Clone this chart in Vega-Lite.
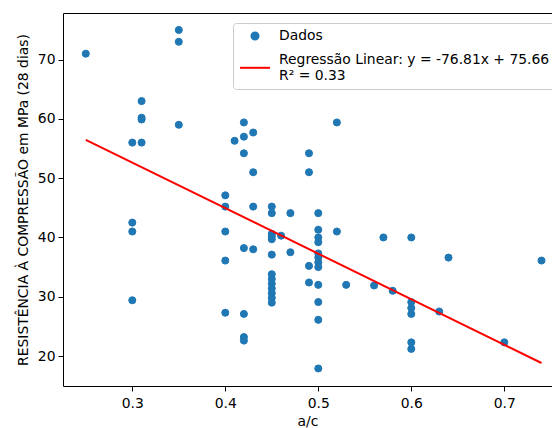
{
  "$schema": "https://vega.github.io/schema/vega-lite/v6.json",
  "autosize": {"type": "none"},
  "padding": {"left": 63, "top": 13, "right": 0, "bottom": 42},
  "width": 489,
  "height": 373,
  "background": "white",
  "title": {"text": "concreto com ARC.", "fontSize": 27.5, "font": "DejaVu Sans", "fontWeight": "normal", "color": "black", "anchor": "middle", "frame": "group", "baseline": "alphabetic", "offset": 0, "dy": 13, "dx": -20},
  "config": {
    "view": {"stroke": null},
    "axis": {"labelFont": "DejaVu Sans", "labelFontSize": 13.9, "labelColor": "black", "tickColor": "black", "domainColor": "black", "tickSize": 5, "titleFont": "DejaVu Sans", "titleFontSize": 13.9, "titleFontWeight": "normal", "titleColor": "black", "grid": false, "domainWidth": 1, "tickWidth": 1},
    "legend": {
      "orient": "none", "legendX": 170, "legendY": 10, "title": null,
      "fillColor": "rgba(255,255,255,0.8)", "strokeColor": "#cccccc", "cornerRadius": 3, "padding": 6,
      "labelFont": "DejaVu Sans", "labelFontSize": 13.9, "labelColor": "black", "labelLimit": 0, "labelOffset": 8, "labelLineHeight": 19.5,
      "symbolStrokeWidth": 2, "symbolOpacity": 1, "rowPadding": -7
    }
  },
  "datasets": {
    "pts": [
      {"ac": 0.25, "fc": 71, "serie": "Dados"},
      {"ac": 0.30, "fc": 56, "serie": "Dados"},
      {"ac": 0.30, "fc": 42.5, "serie": "Dados"},
      {"ac": 0.30, "fc": 41, "serie": "Dados"},
      {"ac": 0.30, "fc": 29.4, "serie": "Dados"},
      {"ac": 0.31, "fc": 63, "serie": "Dados"},
      {"ac": 0.31, "fc": 60.2, "serie": "Dados"},
      {"ac": 0.31, "fc": 59.9, "serie": "Dados"},
      {"ac": 0.31, "fc": 56, "serie": "Dados"},
      {"ac": 0.35, "fc": 75, "serie": "Dados"},
      {"ac": 0.35, "fc": 73, "serie": "Dados"},
      {"ac": 0.35, "fc": 59, "serie": "Dados"},
      {"ac": 0.40, "fc": 47.1, "serie": "Dados"},
      {"ac": 0.40, "fc": 45.2, "serie": "Dados"},
      {"ac": 0.40, "fc": 41, "serie": "Dados"},
      {"ac": 0.40, "fc": 36.1, "serie": "Dados"},
      {"ac": 0.40, "fc": 27.3, "serie": "Dados"},
      {"ac": 0.41, "fc": 56.3, "serie": "Dados"},
      {"ac": 0.42, "fc": 59.4, "serie": "Dados"},
      {"ac": 0.42, "fc": 57, "serie": "Dados"},
      {"ac": 0.42, "fc": 54.2, "serie": "Dados"},
      {"ac": 0.42, "fc": 38.2, "serie": "Dados"},
      {"ac": 0.42, "fc": 27.1, "serie": "Dados"},
      {"ac": 0.42, "fc": 23.2, "serie": "Dados"},
      {"ac": 0.42, "fc": 22.6, "serie": "Dados"},
      {"ac": 0.43, "fc": 57.7, "serie": "Dados"},
      {"ac": 0.43, "fc": 51, "serie": "Dados"},
      {"ac": 0.43, "fc": 45.2, "serie": "Dados"},
      {"ac": 0.43, "fc": 38, "serie": "Dados"},
      {"ac": 0.45, "fc": 45.2, "serie": "Dados"},
      {"ac": 0.45, "fc": 44.1, "serie": "Dados"},
      {"ac": 0.45, "fc": 40.6, "serie": "Dados"},
      {"ac": 0.45, "fc": 40.2, "serie": "Dados"},
      {"ac": 0.45, "fc": 39.7, "serie": "Dados"},
      {"ac": 0.45, "fc": 37.1, "serie": "Dados"},
      {"ac": 0.45, "fc": 33.8, "serie": "Dados"},
      {"ac": 0.45, "fc": 33.0, "serie": "Dados"},
      {"ac": 0.45, "fc": 32.2, "serie": "Dados"},
      {"ac": 0.45, "fc": 31.4, "serie": "Dados"},
      {"ac": 0.45, "fc": 30.6, "serie": "Dados"},
      {"ac": 0.45, "fc": 29.8, "serie": "Dados"},
      {"ac": 0.45, "fc": 29.0, "serie": "Dados"},
      {"ac": 0.46, "fc": 40.3, "serie": "Dados"},
      {"ac": 0.47, "fc": 44.1, "serie": "Dados"},
      {"ac": 0.47, "fc": 37.5, "serie": "Dados"},
      {"ac": 0.49, "fc": 54.2, "serie": "Dados"},
      {"ac": 0.49, "fc": 51, "serie": "Dados"},
      {"ac": 0.49, "fc": 35.2, "serie": "Dados"},
      {"ac": 0.49, "fc": 32.4, "serie": "Dados"},
      {"ac": 0.50, "fc": 44.1, "serie": "Dados"},
      {"ac": 0.50, "fc": 41.3, "serie": "Dados"},
      {"ac": 0.50, "fc": 40.0, "serie": "Dados"},
      {"ac": 0.50, "fc": 39.2, "serie": "Dados"},
      {"ac": 0.50, "fc": 37.3, "serie": "Dados"},
      {"ac": 0.50, "fc": 36.6, "serie": "Dados"},
      {"ac": 0.50, "fc": 35.8, "serie": "Dados"},
      {"ac": 0.50, "fc": 35.0, "serie": "Dados"},
      {"ac": 0.50, "fc": 32.0, "serie": "Dados"},
      {"ac": 0.50, "fc": 29.1, "serie": "Dados"},
      {"ac": 0.50, "fc": 26.1, "serie": "Dados"},
      {"ac": 0.50, "fc": 17.9, "serie": "Dados"},
      {"ac": 0.52, "fc": 59.4, "serie": "Dados"},
      {"ac": 0.52, "fc": 41, "serie": "Dados"},
      {"ac": 0.53, "fc": 32, "serie": "Dados"},
      {"ac": 0.56, "fc": 31.9, "serie": "Dados"},
      {"ac": 0.57, "fc": 40, "serie": "Dados"},
      {"ac": 0.58, "fc": 31, "serie": "Dados"},
      {"ac": 0.60, "fc": 40, "serie": "Dados"},
      {"ac": 0.60, "fc": 29.1, "serie": "Dados"},
      {"ac": 0.60, "fc": 28.1, "serie": "Dados"},
      {"ac": 0.60, "fc": 27.1, "serie": "Dados"},
      {"ac": 0.60, "fc": 22.3, "serie": "Dados"},
      {"ac": 0.60, "fc": 21.2, "serie": "Dados"},
      {"ac": 0.63, "fc": 27.5, "serie": "Dados"},
      {"ac": 0.64, "fc": 36.6, "serie": "Dados"},
      {"ac": 0.70, "fc": 22.3, "serie": "Dados"},
      {"ac": 0.74, "fc": 36.1, "serie": "Dados"}
    ],
    "reg": [
      {"ac": 0.25, "fc": 56.46, "serie": "Regressão Linear"},
      {"ac": 0.74, "fc": 18.82, "serie": "Regressão Linear"}
    ]
  },
  "layer": [
    {
      "data": {"name": "pts"},
      "mark": {"type": "point", "filled": true, "opacity": 1, "strokeWidth": 1},
      "encoding": {
        "x": {"field": "ac", "type": "quantitative", "scale": {"domain": [0.2255, 0.7513], "nice": false, "zero": false},
              "axis": {"orient": "bottom", "values": [0.3, 0.4, 0.5, 0.6, 0.7], "format": ".1f", "title": "a/c", "labelPadding": 5, "titlePadding": 5}},
        "y": {"field": "fc", "type": "quantitative", "scale": {"domain": [14.94, 77.86], "nice": false, "zero": false},
              "axis": {"values": [20, 30, 40, 50, 60, 70], "title": "RESISTÊNCIA À COMPRESSÃO em MPa (28 dias)", "labelPadding": 3, "titlePadding": 7}},
        "color": {"field": "serie", "type": "nominal",
                  "scale": {"domain": ["Dados", "Regressão Linear"], "range": ["#1f77b4", "#ff0000"]},
                  "legend": {"title": null, "labelExpr": "datum.value == 'Dados' ? 'Dados' : ['Regressão Linear: y = -76.81x + 75.66', 'R² = 0.33']"}},
        "stroke": {"field": "serie", "type": "nominal",
                  "scale": {"domain": ["Dados", "Regressão Linear"], "range": ["#1f77b4", "#ff0000"]},
                  "legend": {"title": null, "labelExpr": "datum.value == 'Dados' ? 'Dados' : ['Regressão Linear: y = -76.81x + 75.66', 'R² = 0.33']"}},
        "shape": {"field": "serie", "type": "nominal",
                  "scale": {"domain": ["Dados", "Regressão Linear"], "range": ["circle", "M-1,0.52H1"]},
                  "legend": {"title": null, "labelExpr": "datum.value == 'Dados' ? 'Dados' : ['Regressão Linear: y = -76.81x + 75.66', 'R² = 0.33']"}},
        "size": {"field": "serie", "type": "nominal",
                  "scale": {"domain": ["Dados", "Regressão Linear"], "range": [50, 900]},
                  "legend": {"title": null, "labelExpr": "datum.value == 'Dados' ? 'Dados' : ['Regressão Linear: y = -76.81x + 75.66', 'R² = 0.33']"}}
      }
    },
    {
      "data": {"name": "reg"},
      "mark": {"type": "line", "strokeWidth": 2, "color": "#ff0000"},
      "encoding": {
        "x": {"field": "ac", "type": "quantitative", "axis": {"orient": "top", "labels": false, "ticks": false, "title": null, "domainColor": "black"}},
        "y": {"field": "fc", "type": "quantitative"}
      }
    }
  ],
  "resolve": {"axis": {"x": "independent"}}
}
